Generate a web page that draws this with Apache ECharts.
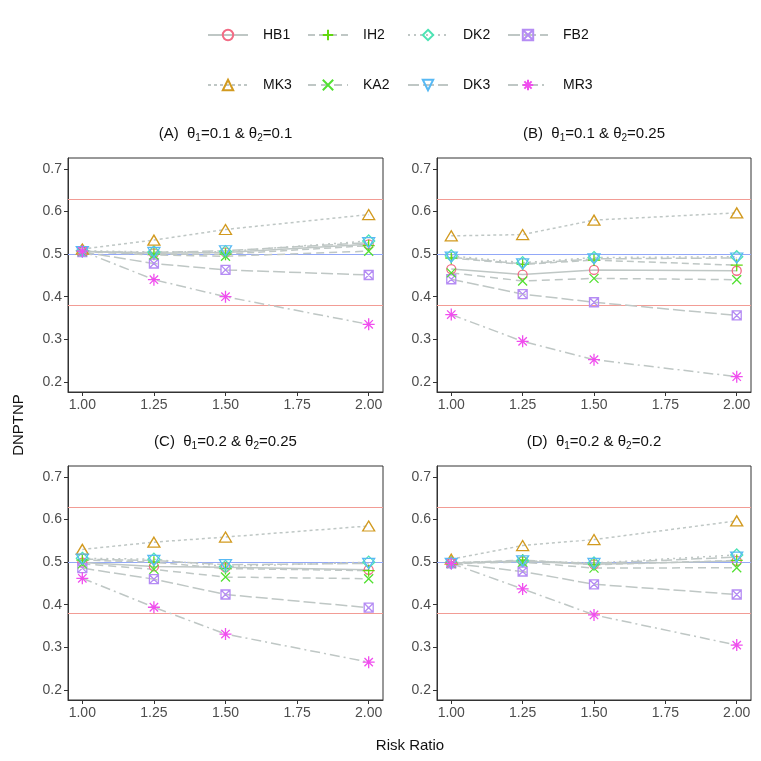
<!DOCTYPE html>
<html>
<head>
    <meta charset="UTF-8">
    <title>DNPTNP</title>
    <script src="https://cdn.jsdelivr.net/npm/echarts@6/dist/echarts.min.js"></script>
</head>
<body style="margin:0">

<div id="main" style="width: 761px;height:761px"></div>

<script type="text/javascript">
    // x values and tick labels
    var riskRatio = [1, 1.25, 1.5, 2];
    var xTicks = [1, 1.25, 1.5, 1.75, 2];
    var yTicks = [0.2, 0.3, 0.4, 0.5, 0.6, 0.7];
    var redLines = [0.375, 0.625];
    var blueLines = [0.5];

    // method order: HB1, IH2, DK2, FB2, MK3, KA2, DK3, MR3
    var methods = ['HB1', 'IH2', 'DK2', 'FB2', 'MK3', 'KA2', 'DK3', 'MR3'];

    // (A) theta1=0.1 & theta2=0.1
    var panelA = [
        [0.507, 0.502, 0.504, 0.523],
        [0.507, 0.500, 0.500, 0.520],
        [0.508, 0.505, 0.506, 0.531],
        [0.505, 0.478, 0.463, 0.451],
        [0.512, 0.533, 0.558, 0.593],
        [0.506, 0.498, 0.495, 0.507],
        [0.506, 0.504, 0.508, 0.527],
        [0.507, 0.440, 0.400, 0.335]
    ];
    // (B) theta1=0.1 & theta2=0.25
    var panelB = [
        [0.465, 0.452, 0.463, 0.461],
        [0.491, 0.476, 0.486, 0.474],
        [0.496, 0.480, 0.492, 0.494],
        [0.441, 0.406, 0.387, 0.356],
        [0.543, 0.546, 0.580, 0.597],
        [0.456, 0.437, 0.443, 0.440],
        [0.493, 0.477, 0.489, 0.491],
        [0.358, 0.295, 0.252, 0.212]
    ];
    // (C) theta1=0.2 & theta2=0.25
    var panelC = [
        [0.499, 0.490, 0.488, 0.482],
        [0.505, 0.500, 0.485, 0.480],
        [0.509, 0.507, 0.490, 0.500],
        [0.486, 0.460, 0.424, 0.393],
        [0.530, 0.547, 0.559, 0.585],
        [0.496, 0.483, 0.465, 0.461],
        [0.507, 0.504, 0.494, 0.497],
        [0.462, 0.394, 0.331, 0.265]
    ];
    // (D) theta1=0.2 & theta2=0.2
    var panelD = [
        [0.498, 0.502, 0.495, 0.503],
        [0.498, 0.505, 0.494, 0.504],
        [0.499, 0.503, 0.498, 0.517],
        [0.497, 0.478, 0.448, 0.424],
        [0.507, 0.539, 0.553, 0.597],
        [0.497, 0.500, 0.486, 0.487],
        [0.497, 0.503, 0.497, 0.512],
        [0.497, 0.437, 0.376, 0.305]
    ];
    var panels = [panelA, panelB, panelC, panelD];
    var panelTitles = [
        ['(A)', '0.1', '0.1'],
        ['(B)', '0.1', '0.25'],
        ['(C)', '0.2', '0.25'],
        ['(D)', '0.2', '0.2']
    ];

    // marker looks
    var colors = ['#F26C85', '#62D80E', '#4DE3B4', '#B58CF4', '#D29A1F', '#52E032', '#58B9F4', '#F04EEE'];
    var symbols = [
        'circle',
        'path://M5,0 L5,10 M0,5 L10,5',
        'diamond',
        'path://M0,0 L10,0 L10,10 L0,10 Z M0,0 L10,10 M10,0 L0,10',
        'triangle',
        'path://M0,0 L10,10 M10,0 L0,10',
        'triangle',
        'path://M5,0 L5,10 M0,5 L10,5 M1.5,1.5 L8.5,8.5 M8.5,1.5 L1.5,8.5'
    ];
    var sizes = [9, 12, 12, 9, [12, 10], 9, [12, 10], 12];
    var rotates = [0, 0, 0, 0, 0, 0, 180, 0];
    var dashes = ['solid', [7, 4], [2, 4], [12, 4], [3, 3], [8, 5], [11, 4], [10, 4, 2, 4]];

    var grids = [
        {left: 68, top: 158, width: 315, height: 234},
        {left: 437, top: 158, width: 314, height: 234},
        {left: 68, top: 466, width: 315, height: 234},
        {left: 437, top: 466, width: 314, height: 234}
    ];

    var xAxes = [], yAxes = [], series = [], graphics = [];
    grids.forEach(function (g, k) {
        g.show = true;
        g.borderColor = '#333';
        g.borderWidth = 1;
        xAxes.push({
            type: 'value', gridIndex: k, min: 0.95, max: 2.05,
            axisLine: {lineStyle: {color: '#333'}},
            axisTick: {length: 4, customValues: xTicks, lineStyle: {color: '#333'}},
            axisLabel: {customValues: xTicks, color: '#4D4D4D', fontSize: 14, margin: 6,
                fontFamily: 'Liberation Sans',
                formatter: function (v) { return v.toFixed(2); }},
            splitLine: {show: false}
        });
        yAxes.push({
            type: 'value', gridIndex: k, min: 0.176, max: 0.726,
            axisLine: {lineStyle: {color: '#333'}},
            axisTick: {length: 4, customValues: yTicks, lineStyle: {color: '#333'}},
            axisLabel: {customValues: yTicks, color: '#4D4D4D', fontSize: 14, margin: 6,
                fontFamily: 'Liberation Sans',
                formatter: function (v) { return v.toFixed(1); }},
            splitLine: {show: false}
        });
        var t = panelTitles[k];
        graphics.push({
            type: 'text', x: g.left + g.width / 2, y: g.top - 24,
            style: {
                text: t[0] + '  θ{s|1}=' + t[1] + ' & θ{s|2}=' + t[2],
                x: 0, y: 0, align: 'center', verticalAlign: 'middle',
                font: '15px "Liberation Sans"', fill: '#111',
                rich: {s: {fontSize: 10, fontFamily: 'Liberation Sans', padding: [9, 0, 0, 0]}}
            }
        });
        panels[k].forEach(function (vals, m) {
            var s = {
                name: methods[m], type: 'line', xAxisIndex: k, yAxisIndex: k,
                data: riskRatio.map(function (x, i) { return [x, vals[i]]; }),
                symbol: symbols[m], symbolSize: sizes[m], symbolRotate: rotates[m],
                showAllSymbol: true,
                lineStyle: {color: '#BFC7C5', width: 1.5, type: dashes[m]},
                itemStyle: {color: 'rgba(0,0,0,0)', borderColor: colors[m], borderWidth: 1.3},
                emphasis: {disabled: true},
                z: 3
            };
            // reference lines hang on the first two series of each panel
            if (m === 0 || m === 1) {
                s.markLine = {
                    silent: true, symbol: 'none', label: {show: false},
                    animation: false, z: 1,
                    lineStyle: {color: m === 0 ? '#F29C95' : '#92A8F8', width: 1, type: 'solid', opacity: 1},
                    data: (m === 0 ? redLines : blueLines).map(function (v) { return {yAxis: v}; })
                };
            }
            series.push(s);
        });
    });

    graphics.push({
        type: 'text', x: 410, y: 746,
        style: {text: 'Risk Ratio', align: 'center', verticalAlign: 'middle',
            font: '15px "Liberation Sans"', fill: '#111'}
    });
    graphics.push({
        type: 'text', x: 19, y: 425, rotation: Math.PI / 2,
        style: {text: 'DNPTNP', align: 'center', verticalAlign: 'middle',
            font: '15px "Liberation Sans"', fill: '#111'}
    });

    // one legend box per key so the columns line up like the original
    var legends = methods.map(function (name, m) {
        return {
            data: [name], padding: 0,
            left: 207 + 100 * (m % 4), top: m < 4 ? 28 : 78,
            itemWidth: 40, itemHeight: 13,
            textStyle: {fontSize: 14, fontFamily: 'Liberation Sans', color: '#111', padding: [0, 0, 0, 10]}
        };
    });

    var myChart = echarts.init(document.getElementById('main'));
    var option = {
        backgroundColor: '#fff',
        animation: false,
        legend: legends,
        grid: grids,
        xAxis: xAxes,
        yAxis: yAxes,
        series: series,
        graphic: graphics
    };
    myChart.setOption(option);
</script>
</body>
</html>
